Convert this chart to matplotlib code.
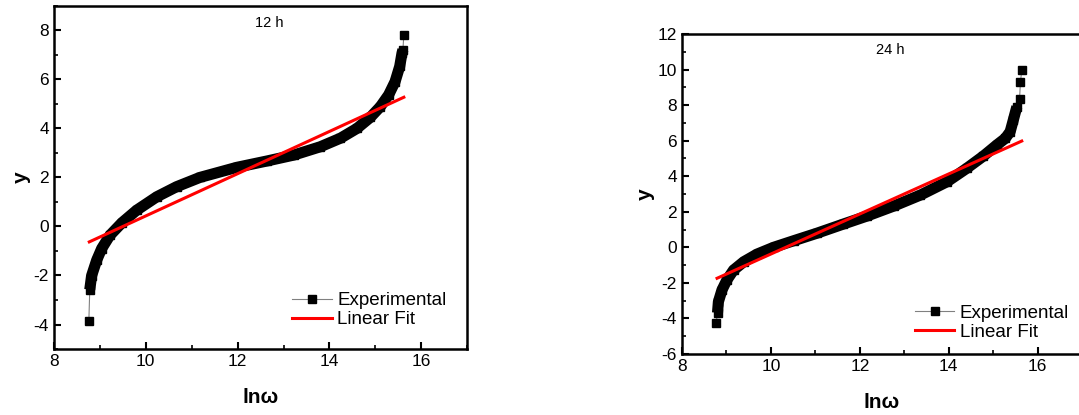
import numpy as np
import matplotlib.pyplot as plt
from matplotlib.ticker import MultipleLocator

plt.rcParams['font.family'] = ['Liberation Sans', 'DejaVu Sans']
plt.rcParams['axes.unicode_minus'] = False

x12 = [8.76, 8.78, 8.82, 8.93, 9.04, 9.22, 9.48, 9.80, 10.24, 10.67, 11.18, 11.98,
       12.64, 13.22, 13.80, 14.24, 14.60, 14.89, 15.11, 15.29, 15.43, 15.53, 15.58,
       15.60, 15.62]
y12 = [-3.86, -2.58, -2.01, -1.38, -0.90, -0.36, 0.15, 0.66, 1.21, 1.62, 2.00, 2.41,
       2.67, 2.91, 3.25, 3.60, 4.00, 4.45, 4.89, 5.37, 5.91, 6.53, 7.07,
       7.21, 7.82]
fit12_x = [8.77, 15.62]
fit12_y = [-0.63, 5.27]

# 24 h 實驗數據
x24 = [8.77, 8.80, 8.82, 8.90, 9.01, 9.16, 9.39, 9.69, 10.06, 10.51, 11.03, 11.63,
       12.16, 12.76, 13.36, 13.96, 14.40, 14.78, 15.08, 15.27, 15.38, 15.45, 15.53,
       15.59, 15.61, 15.64]
y24 = [-4.24, -3.68, -3.06, -2.40, -1.84, -1.28, -0.81, -0.38, 0.00, 0.37, 0.79, 1.31,
       1.76, 2.32, 2.94, 3.69, 4.44, 5.14, 5.76, 6.13, 6.51, 7.16, 7.91,
       8.32, 9.28, 9.96]
fit24_x = [8.79, 15.64]
fit24_y = [-1.74, 5.98]


def panel(ax, x, y, fx, fy, title, ylim, band, leg_pad):
    ax.plot(x, y, '-', color='gray', lw=0.8, marker='s', ms=5.5,
            mfc='black', mec='black', label='Experimental', zorder=2)
    # 密集點重疊成的黑色帶
    a, b = band
    ax.plot(x[a:b], y[a:b], '-', color='black', lw=8, solid_capstyle='butt',
            solid_joinstyle='round', zorder=3)
    ax.plot(fx, fy, '-', color='red', lw=2.2, label='Linear Fit', zorder=4)
    ax.set_xlim(8, 17)
    ax.set_ylim(*ylim)
    ax.xaxis.set_major_locator(MultipleLocator(2))
    ax.xaxis.set_minor_locator(MultipleLocator(1))
    ax.yaxis.set_major_locator(MultipleLocator(2))
    ax.yaxis.set_minor_locator(MultipleLocator(1))
    ax.tick_params(which='both', direction='in', top=False, right=False, labelsize=12.5)
    ax.tick_params(which='major', length=5, width=1.5)
    ax.tick_params(which='minor', length=3, width=1.2)
    for s in ax.spines.values():
        s.set_linewidth(1.8)
    ax.set_xlabel('lnω', fontsize=15, fontweight='bold', labelpad=14)
    ax.set_ylabel('y', fontsize=15, fontweight='bold', labelpad=2)
    ax.text(0.52, 0.95, title, transform=ax.transAxes, ha='center', va='center', fontsize=10.5)
    ax.legend(loc='lower right', frameon=False, fontsize=13.5, handlelength=2.1,
              handletextpad=0.3, labelspacing=0.1, borderaxespad=leg_pad)


fig = plt.figure(figsize=(10.79, 4.15), dpi=100)
ax1 = fig.add_axes([0.050, 0.159, 0.383, 0.827])
ax2 = fig.add_axes([0.632, 0.147, 0.371, 0.771])

panel(ax1, x12, y12, fit12_x, fit12_y, '12 h', (-5, 9), (1, -1), 0.7)
panel(ax2, x24, y24, fit24_x, fit24_y, '24 h', (-6, 12), (1, -3), 0.3)

fig.savefig('out.png', dpi=100)
